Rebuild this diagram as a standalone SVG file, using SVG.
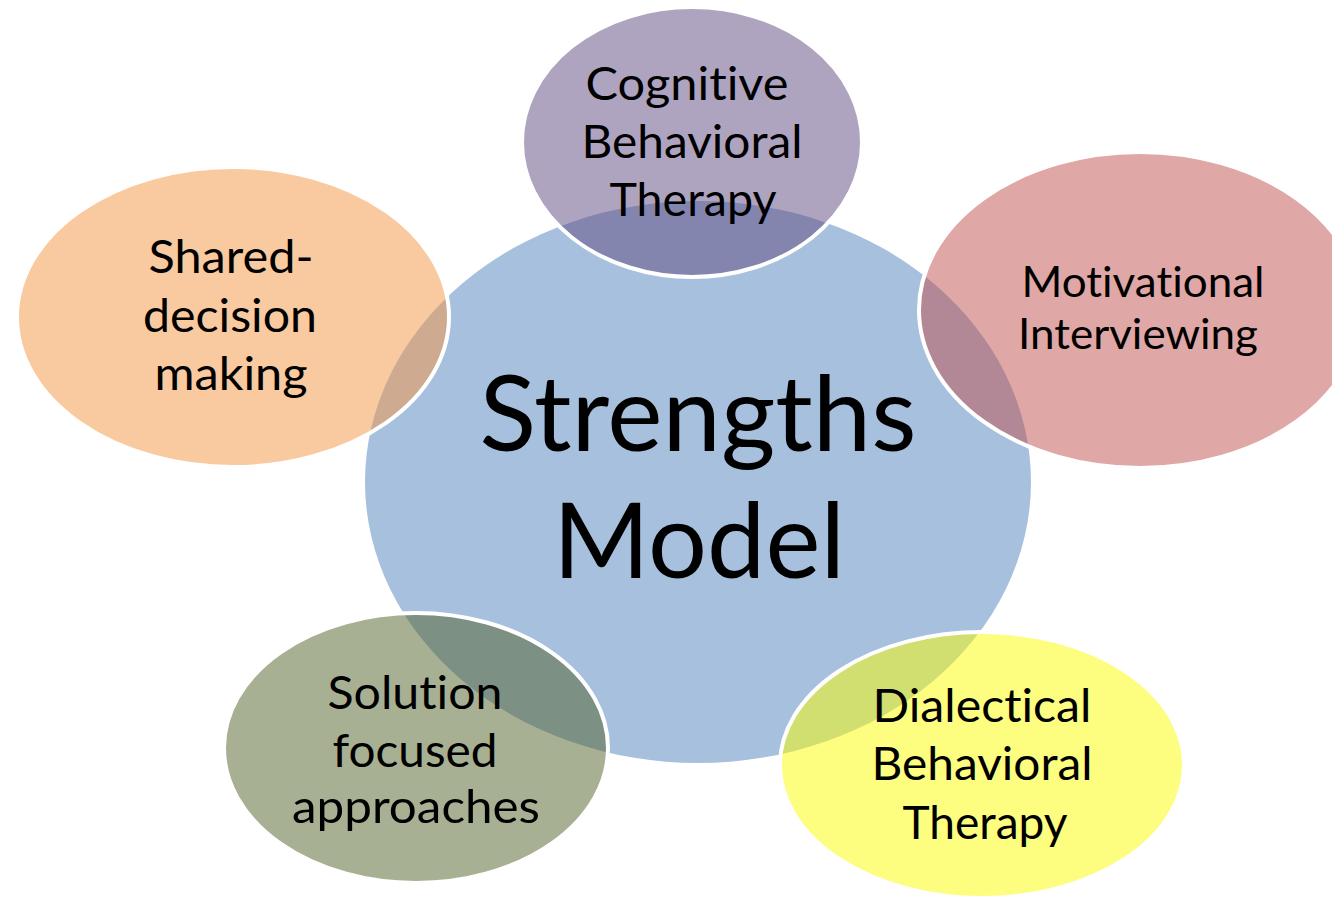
<svg xmlns="http://www.w3.org/2000/svg" width="1332" height="897" viewBox="0 0 1332 897">
<style>
.sat{stroke:#FFFFFF;stroke-width:4;fill-opacity:0.5}
text{font-family:Lato,"Open Sans","Liberation Sans",sans-serif;fill:#000000;text-anchor:middle;font-variant-ligatures:none;font-feature-settings:"liga" 0,"clig" 0,"dlig" 0}
.big{font-size:104px}
.lbl{font-size:47px}
.lbl2{font-size:42px}
</style>
<rect width="1332" height="897" fill="#FFFFFF"/>
<g id="center">
<ellipse cx="698" cy="482" rx="333" ry="281" fill="#A7C0DE"/>
</g>
<g id="connectors"></g>
<g id="cbt">
<ellipse class="sat" cx="692" cy="142" rx="170" ry="135" fill="#5F497F"/>
</g>
<g id="mi">
<ellipse class="sat" cx="1140" cy="310" rx="221" ry="158" fill="#C0504D"/>
</g>
<g id="sdm">
<ellipse class="sat" cx="233" cy="317" rx="216" ry="150" fill="#F39341"/>
</g>
<g id="sfa">
<ellipse class="sat" cx="416" cy="748" rx="192" ry="135" fill="#516127"/>
</g>
<g id="dbt">
<ellipse class="sat" cx="982" cy="765" rx="202" ry="133" fill="#FBFB01"/>
</g>
<g id="labels">
<text class="big" x="698" y="451" textLength="437" lengthAdjust="spacingAndGlyphs">Strengths</text>
<text class="big" x="699" y="578" textLength="292" lengthAdjust="spacingAndGlyphs">Model</text>
<text class="lbl" x="687" y="100" textLength="203" lengthAdjust="spacingAndGlyphs">Cognitive</text>
<text class="lbl" x="692" y="158" textLength="221" lengthAdjust="spacingAndGlyphs">Behavioral</text>
<text class="lbl" x="693" y="216" textLength="167" lengthAdjust="spacingAndGlyphs">Therapy</text>
<text class="lbl2" x="1143" y="297" textLength="243" lengthAdjust="spacingAndGlyphs">Motivational</text>
<text class="lbl2" x="1138" y="349" textLength="240" lengthAdjust="spacingAndGlyphs">Interviewing</text>
<text class="lbl" x="231" y="273" textLength="165" lengthAdjust="spacingAndGlyphs">Shared-</text>
<text class="lbl" x="230" y="332" textLength="174" lengthAdjust="spacingAndGlyphs">decision</text>
<text class="lbl" x="231" y="390" textLength="153" lengthAdjust="spacingAndGlyphs">making</text>
<text class="lbl" x="415" y="709" textLength="175" lengthAdjust="spacingAndGlyphs">Solution</text>
<text class="lbl" x="415" y="767" textLength="165" lengthAdjust="spacingAndGlyphs">focused</text>
<text class="lbl" x="416" y="823" textLength="248" lengthAdjust="spacingAndGlyphs">approaches</text>
<text class="lbl" x="982" y="722" textLength="219" lengthAdjust="spacingAndGlyphs">Dialectical</text>
<text class="lbl" x="982" y="780" textLength="221" lengthAdjust="spacingAndGlyphs">Behavioral</text>
<text class="lbl" x="985" y="839" textLength="165" lengthAdjust="spacingAndGlyphs">Therapy</text>
</g>
</svg>
